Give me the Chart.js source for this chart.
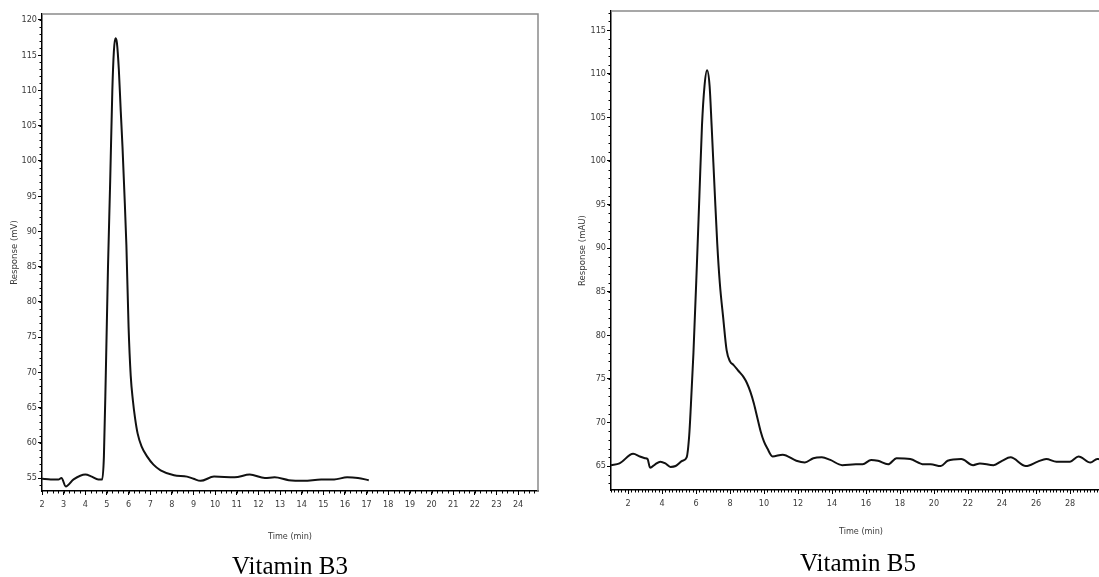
<!DOCTYPE html>
<html>
<head>
<meta charset="utf-8">
<script src="https://cdn.jsdelivr.net/npm/chart.js@4"></script>
<style>
    html, body { margin: 0; padding: 0; background: #fff; overflow: hidden; width: 1099px; height: 577px; }
    .box { position: absolute; top: 0; }
    .caption {
        position: absolute;
        font-family: 'Liberation Serif', 'Times New Roman', serif;
        font-size: 25px;
        color: #000;
        transform: translate(-50%, -50%);
        white-space: nowrap;
    }
</style>
</head>
<body>
<div class="box" style="left:0px"><canvas id="chartB3" width="550" height="577"></canvas></div>
<div class="box" style="left:555px"><canvas id="chartB5" width="560" height="577"></canvas></div>
<div class="caption" style="left:290px; top:566px">Vitamin B3</div>
<div class="caption" style="left:858px; top:563px">Vitamin B5</div>

<script>
// Vitamin B3 chromatogram (time in min, response in mV)
const b3Time = [2.0, 2.4, 2.76, 2.9, 3.1, 3.46, 4.0, 4.3, 4.6, 4.78,
    4.86, 4.95, 5.05, 5.15, 5.25, 5.32, 5.39, 5.46, 5.55, 5.64, 5.72, 5.8, 5.9, 6.0,
    6.1, 6.2, 6.3, 6.42, 6.6, 6.87, 7.15, 7.48, 8.1, 8.7, 9.0, 9.33, 9.95, 10.9,
    11.6, 12.3, 12.75, 13.4, 14.1, 14.9, 15.5, 16.1, 16.6, 17.1];
const b3Response = [54.9, 54.8, 54.8, 55.0, 53.8, 54.8, 55.5, 55.2, 54.8, 54.8,
    58, 70, 85, 97, 110, 115.5, 117.4, 116.8, 113, 107, 102, 96, 88, 76.5,
    69.5, 66, 63.5, 61.3, 59.5, 58.0, 56.9, 56.1, 55.4, 55.2, 54.9, 54.6, 55.2, 55.1,
    55.5, 55.0, 55.1, 54.7, 54.6, 54.8, 54.8, 55.1, 55.0, 54.7];

// Vitamin B5 chromatogram (time in min, response in mAU)
const b5Time = [1.0, 1.5, 2.3, 2.7, 3.0, 3.15, 3.3, 3.6, 3.9, 4.2, 4.5, 4.8, 5.2, 5.45,
    5.6, 5.7, 5.85, 6.05, 6.2, 6.35, 6.5, 6.65, 6.8, 6.92, 7.1, 7.25, 7.4, 7.6, 7.8,
    8.0, 8.2, 8.5, 8.8, 9.0, 9.2, 9.4, 9.6, 9.8, 10.0, 10.2, 10.5, 11.1, 11.9, 12.4,
    12.9, 13.4, 13.9, 14.6, 15.4, 15.8, 16.3, 16.7, 17.3, 17.8, 18.6, 19.4, 19.8,
    20.4, 20.8, 21.6, 22.3, 22.7, 23.5, 24.0, 24.5, 25.4, 26.1, 26.6, 27.2, 28.0,
    28.5, 29.2, 29.6, 30.4];
const b5Response = [65.1, 65.3, 66.4, 66.1, 65.9, 65.8, 64.8, 65.2, 65.5, 65.3, 64.9, 65.0, 65.6, 66.0,
    68.5, 72, 78, 88, 96, 104, 108.6, 110.4, 108.6, 104, 96.5, 90.5, 86, 82, 78.3,
    77, 76.6, 75.9, 75.2, 74.5, 73.5, 72.2, 70.6, 69.0, 67.8, 67.0, 66.1, 66.3, 65.6, 65.4,
    65.9, 66.0, 65.7, 65.1, 65.2, 65.2, 65.7, 65.6, 65.2, 65.9, 65.8, 65.2, 65.2,
    65.0, 65.6, 65.8, 65.1, 65.3, 65.1, 65.6, 66.0, 65.0, 65.5, 65.8, 65.5, 65.5,
    66.1, 65.4, 65.8, 65.6];

const labelFont = { family: "'DejaVu Sans Condensed', 'DejaVu Sans', sans-serif", size: 9 };
const titleFont = { family: "'DejaVu Sans Condensed', 'DejaVu Sans', sans-serif", size: 9.5 };
const labelColor = '#3a3a3a';

// plot frame (top/right) and the small minor ticks along both axes
const frameAndTicks = {
    id: 'frameAndTicks',
    afterDraw(chart, args, opts) {
        const { ctx, chartArea: a, scales: { x, y } } = chart;
        ctx.save();
        ctx.strokeStyle = '#8a8a8a';
        ctx.lineWidth = 1.5;
        ctx.beginPath();
        ctx.moveTo(a.left, a.top);
        ctx.lineTo(a.right, a.top);
        ctx.lineTo(a.right, a.bottom);
        ctx.stroke();

        ctx.strokeStyle = '#000';
        ctx.lineWidth = 1;
        ctx.beginPath();
        for (let i = Math.ceil(x.min / opts.xStep); i * opts.xStep <= x.max; i++) {
            const px = Math.round(x.getPixelForValue(i * opts.xStep)) + 0.5;
            ctx.moveTo(px, a.bottom);
            ctx.lineTo(px, a.bottom + 2.5);
        }
        for (let i = Math.ceil(y.min / opts.yStep); i * opts.yStep <= y.max; i++) {
            const py = Math.round(y.getPixelForValue(i * opts.yStep)) + 0.5;
            ctx.moveTo(a.left, py);
            ctx.lineTo(a.left - 2.5, py);
        }
        ctx.stroke();
        ctx.restore();
    }
};

function makeConfig(times, values, o) {
    return {
        type: 'line',
        data: {
            datasets: [{
                data: times.map((t, i) => ({ x: t, y: values[i] })),
                borderColor: '#111',
                borderWidth: 2,
                pointRadius: 0,
                cubicInterpolationMode: 'monotone',
                fill: false
            }]
        },
        options: {
            responsive: false,
            animation: false,
            devicePixelRatio: 1,
            layout: { padding: o.padding },
            scales: {
                x: {
                    type: 'linear',
                    min: o.xMin,
                    max: o.xMax,
                    afterFit: s => { s.height = o.xHeight; },
                    border: { display: true, color: '#000', width: 1.5 },
                    grid: { display: true, drawOnChartArea: false, color: '#000', tickLength: 4 },
                    ticks: {
                        stepSize: o.xStep, includeBounds: false, autoSkip: false,
                        maxRotation: 0, padding: 4, font: labelFont, color: labelColor
                    },
                    title: {
                        display: true, text: 'Time (min)', font: labelFont, color: labelColor,
                        padding: { top: 0, bottom: o.xTitlePad }
                    }
                },
                y: {
                    type: 'linear',
                    min: o.yMin,
                    max: o.yMax,
                    afterFit: s => { s.width = o.yWidth; },
                    border: { display: true, color: '#000', width: 1.5 },
                    grid: { display: true, drawOnChartArea: false, color: '#000', tickLength: 4 },
                    ticks: {
                        stepSize: 5, includeBounds: false, autoSkip: false,
                        padding: 1, font: labelFont, color: labelColor
                    },
                    title: {
                        display: true, text: o.yTitle, font: titleFont, color: labelColor,
                        padding: { top: o.yTitlePad, bottom: 0 }
                    }
                }
            },
            plugins: {
                legend: { display: false },
                tooltip: { enabled: false },
                frameAndTicks: { xStep: o.minorX, yStep: 1 }
            }
        },
        plugins: [frameAndTicks]
    };
}

new Chart(document.getElementById('chartB3'), makeConfig(b3Time, b3Response, {
    padding: { top: 14, right: 12, left: 0, bottom: 0 },
    xMin: 2, xMax: 24.92, xStep: 1, minorX: 0.25, xHeight: 86, xTitlePad: 35,
    yMin: 53.16, yMax: 120.85, yWidth: 42, yTitle: 'Response (mV)', yTitlePad: 9.3
}));

new Chart(document.getElementById('chartB5'), makeConfig(b5Time, b5Response, {
    padding: { top: 11, right: 4, left: 0, bottom: 0 },
    xMin: 1.0, xMax: 30.41, xStep: 2, minorX: 0.2, xHeight: 87, xTitlePad: 40,
    yMin: 62.25, yMax: 117.2, yWidth: 56, yTitle: 'Response (mAU)', yTitlePad: 22.3
}));
</script>
</body>
</html>
